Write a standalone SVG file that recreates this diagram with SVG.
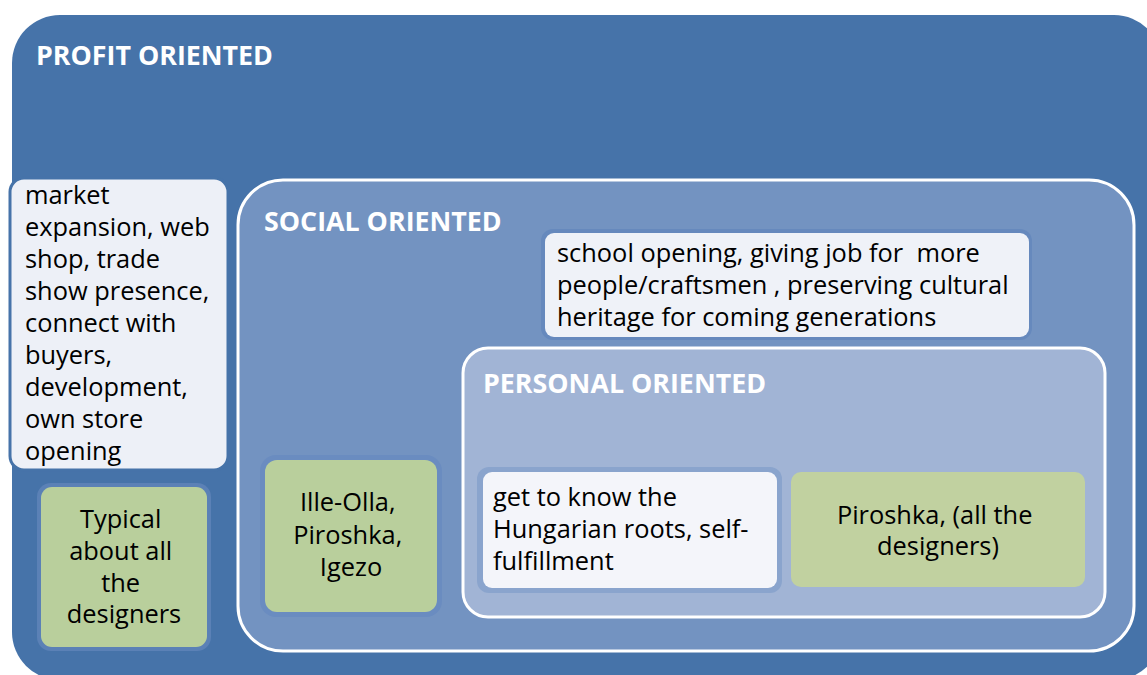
<svg xmlns="http://www.w3.org/2000/svg" width="1147" height="675" viewBox="0 0 1147 675">
  <style>
    .hdr { font-family: "Open Sans", "Liberation Sans", sans-serif; font-weight: bold; font-size: 26.8px; fill: #ffffff; }
    .txt { font-family: "Open Sans", "Liberation Sans", sans-serif; font-size: 25.4px; fill: #000000; }
    .mid { text-anchor: middle; }
    .pre { white-space: pre; }
    .green { fill: #b9cf9c; }
    .pale { fill: #edf0f7; }
  </style>
  <rect width="1147" height="675" fill="#ffffff"/>

  <g id="profit">
    <rect x="12" y="15" width="1150" height="665" rx="48" fill="#4673a9"/>
    <text class="hdr" x="36" y="65">PROFIT ORIENTED</text>
  </g>

  <g id="market">
    <rect x="10" y="178" width="218" height="292" rx="14" class="pale" stroke="#4673a9" stroke-width="3"/>
    <text class="txt" x="25">
      <tspan x="25" y="204">market</tspan>
      <tspan x="25" y="236">expansion, web</tspan>
      <tspan x="25" y="268">shop, trade</tspan>
      <tspan x="25" y="300">show presence,</tspan>
      <tspan x="25" y="332">connect with</tspan>
      <tspan x="25" y="364">buyers,</tspan>
      <tspan x="25" y="396">development,</tspan>
      <tspan x="25" y="428">own store</tspan>
      <tspan x="25" y="460">opening</tspan>
    </text>
  </g>

  <g id="typical">
    <rect x="37" y="483" width="174" height="168" rx="14" fill="#5b81b6"/>
    <rect x="41" y="487" width="166" height="160" rx="11" class="green"/>
    <text class="txt mid">
      <tspan x="124" y="528">Typical</tspan>
      <tspan x="124" y="560">about all</tspan>
      <tspan x="124" y="592">the</tspan>
      <tspan x="124" y="623">designers</tspan>
    </text>
  </g>

  <g id="social">
    <rect x="238" y="180" width="896" height="471" rx="45" fill="#7393c1" stroke="#ffffff" stroke-width="3"/>
    <text class="hdr" x="264" y="231">SOCIAL ORIENTED</text>
  </g>

  <g id="school">
    <rect x="541" y="229" width="491" height="111" rx="12" fill="#6689bd"/>
    <rect x="545" y="233" width="484" height="104" rx="9" fill="#eff2f8"/>
    <text class="txt pre">
      <tspan x="557" y="262">school opening, giving job for  more</tspan>
      <tspan x="557" y="294">people/craftsmen , preserving cultural</tspan>
      <tspan x="557" y="326">heritage for coming generations</tspan>
    </text>
  </g>

  <g id="illeolla">
    <rect x="260" y="455" width="182" height="162" rx="16" fill="#6a8cc0"/>
    <rect x="265" y="460" width="172" height="152" rx="12" class="green"/>
    <text class="txt mid">
      <tspan x="351" y="511">Ille-Olla,</tspan>
      <tspan x="351" y="544">Piroshka,</tspan>
      <tspan x="351" y="576">Igezo</tspan>
    </text>
  </g>

  <g id="personal">
    <rect x="463" y="348" width="642" height="269" rx="25" fill="#a1b4d5" stroke="#ffffff" stroke-width="3"/>
    <text class="hdr" x="483" y="393">PERSONAL ORIENTED</text>
  </g>

  <g id="roots">
    <rect x="477" y="467" width="305" height="126" rx="12" fill="#8aa4cd"/>
    <rect x="483" y="472" width="294" height="116" rx="9" fill="#f4f5fa"/>
    <text class="txt">
      <tspan x="493" y="506">get to know the</tspan>
      <tspan x="493" y="538">Hungarian roots, self-</tspan>
      <tspan x="493" y="570">fulfillment</tspan>
    </text>
  </g>

  <g id="piroshka">
    <rect x="791" y="472" width="294" height="115" rx="10" fill="#c1d1a0"/>
    <text class="txt mid">
      <tspan x="938" y="524">Piroshka, (all the</tspan>
      <tspan x="938" y="555">designers)</tspan>
    </text>
  </g>

  <g id="connectors"></g>
</svg>
